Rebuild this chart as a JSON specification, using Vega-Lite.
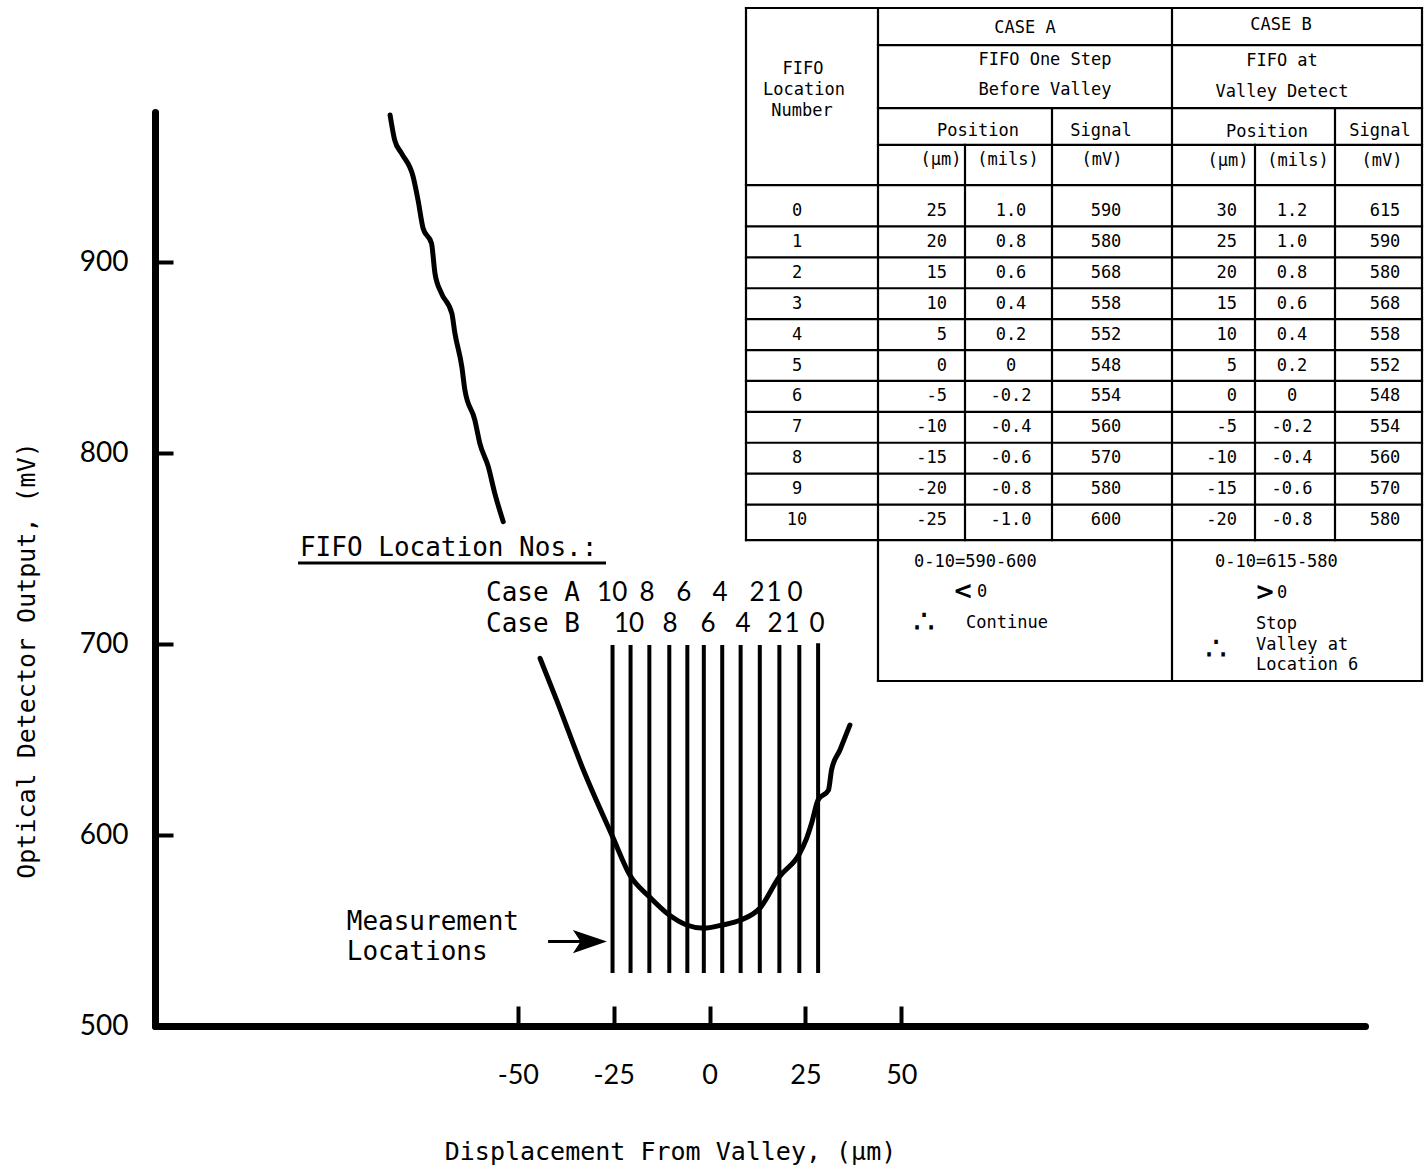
{
  "$schema": "https://vega.github.io/schema/vega-lite/v6.json",
  "width": 1210,
  "height": 914,
  "autosize": {"type": "none"},
  "padding": {"left": 155, "top": 112, "right": 63, "bottom": 143},
  "background": "white",
  "config": {"view": {"stroke": null}, "text": {"color": "black"}},
  "datasets": {
    "leftcurve": [
      {"x": -83.3, "y": 977.2}, {"x": -82.1, "y": 964.1}, {"x": -80.3, "y": 957.1}, {"x": -77.3, "y": 944.9},
      {"x": -76.0, "y": 932.5}, {"x": -74.7, "y": 917.9}, {"x": -72.5, "y": 910.0}, {"x": -71.6, "y": 894.3},
      {"x": -69.9, "y": 883.8}, {"x": -67.2, "y": 873.3}, {"x": -66.4, "y": 862.9}, {"x": -64.6, "y": 845.4},
      {"x": -63.8, "y": 833.2}, {"x": -61.2, "y": 817.4}, {"x": -59.9, "y": 805.2}, {"x": -57.7, "y": 793.0},
      {"x": -56.0, "y": 779.0}, {"x": -53.8, "y": 764.2}
    ],
    "valley": [
      {"x": -44.2, "y": 692.6}, {"x": -39.9, "y": 670.8}, {"x": -32.9, "y": 634.1}, {"x": -25.3, "y": 599.2},
      {"x": -20.8, "y": 579.1}, {"x": -15.7, "y": 567.7}, {"x": -10.5, "y": 558.1}, {"x": -6.0, "y": 552.9},
      {"x": -1.5, "y": 551.2}, {"x": 3.3, "y": 552.9}, {"x": 8.1, "y": 555.5}, {"x": 13.1, "y": 561.7},
      {"x": 18.2, "y": 578.2}, {"x": 23.4, "y": 590.1}, {"x": 25.3, "y": 598.3}, {"x": 26.6, "y": 606.2},
      {"x": 28.3, "y": 618.4}, {"x": 31.0, "y": 623.6}, {"x": 31.8, "y": 634.1}, {"x": 34.0, "y": 644.6},
      {"x": 36.6, "y": 657.7}
    ],
    "meas": [
      {"x": -25.3, "y": 527.8, "y2": 699.6}, {"x": -20.6, "y": 527.8, "y2": 699.6},
      {"x": -15.7, "y": 527.8, "y2": 699.6}, {"x": -10.5, "y": 527.8, "y2": 699.6},
      {"x": -5.8, "y": 527.8, "y2": 699.6}, {"x": -1.5, "y": 527.8, "y2": 699.6},
      {"x": 3.3, "y": 527.8, "y2": 699.6}, {"x": 8.1, "y": 527.8, "y2": 699.6},
      {"x": 13.1, "y": 527.8, "y2": 699.6}, {"x": 18.2, "y": 527.8, "y2": 699.6},
      {"x": 23.4, "y": 527.8, "y2": 699.6}, {"x": 28.3, "y": 527.8, "y2": 700.5}
    ],
    "fifo": [
      {"case": "A", "label": "10", "x": -25.4, "y": 726.8}, {"case": "A", "label": "8", "x": -16.3, "y": 726.8},
      {"case": "A", "label": "6", "x": -6.7, "y": 726.8}, {"case": "A", "label": "4", "x": 2.7, "y": 726.8},
      {"case": "A", "label": "2", "x": 12.4, "y": 726.8}, {"case": "A", "label": "1", "x": 16.8, "y": 726.8},
      {"case": "A", "label": "0", "x": 22.3, "y": 726.8},
      {"case": "B", "label": "10", "x": -21.0, "y": 710.6}, {"case": "B", "label": "8", "x": -10.3, "y": 710.6},
      {"case": "B", "label": "6", "x": -0.4, "y": 710.6}, {"case": "B", "label": "4", "x": 8.7, "y": 710.6},
      {"case": "B", "label": "2", "x": 17.1, "y": 710.6}, {"case": "B", "label": "1", "x": 21.5, "y": 710.6},
      {"case": "B", "label": "0", "x": 28.0, "y": 710.6}
    ],
    "notes": [
      {"text": "FIFO Location Nos.:", "x": -106.8, "y": 750.4},
      {"text": "Case A", "x": -58.3, "y": 726.8},
      {"text": "Case B", "x": -58.3, "y": 710.6},
      {"text": "Measurement", "x": -94.6, "y": 554.5},
      {"text": "Locations", "x": -94.6, "y": 538.8}
    ],
    "strokes": [
      {"x": -107.3, "x2": -27.0, "y": 742.5},
      {"x": -42.1, "x2": -33.0, "y": 544.2}
    ],
    "arrowhead": [{"x": -31.2, "y": 544.2}],
    "tlines": [
      {"tx1": 0, "tx2": 676, "ty1": -6.57, "ty2": -6.57},
      {"tx1": 132, "tx2": 676, "ty1": -5.37, "ty2": -5.37},
      {"tx1": 132, "tx2": 676, "ty1": -3.33, "ty2": -3.33},
      {"tx1": 132, "tx2": 676, "ty1": -2.14, "ty2": -2.14},
      {"tx1": 0, "tx2": 676, "ty1": -0.84, "ty2": -0.84},
      {"tx1": 0, "tx2": 676, "ty1": 0.5, "ty2": 0.5},
      {"tx1": 0, "tx2": 676, "ty1": 1.5, "ty2": 1.5},
      {"tx1": 0, "tx2": 676, "ty1": 2.5, "ty2": 2.5},
      {"tx1": 0, "tx2": 676, "ty1": 3.5, "ty2": 3.5},
      {"tx1": 0, "tx2": 676, "ty1": 4.5, "ty2": 4.5},
      {"tx1": 0, "tx2": 676, "ty1": 5.5, "ty2": 5.5},
      {"tx1": 0, "tx2": 676, "ty1": 6.5, "ty2": 6.5},
      {"tx1": 0, "tx2": 676, "ty1": 7.5, "ty2": 7.5},
      {"tx1": 0, "tx2": 676, "ty1": 8.5, "ty2": 8.5},
      {"tx1": 0, "tx2": 676, "ty1": 9.5, "ty2": 9.5},
      {"tx1": 0, "tx2": 676, "ty1": 10.65, "ty2": 10.65},
      {"tx1": 132, "tx2": 676, "ty1": 15.21, "ty2": 15.21},
      {"tx1": 0, "tx2": 0, "ty1": -6.57, "ty2": 10.65},
      {"tx1": 132, "tx2": 132, "ty1": -6.57, "ty2": 15.21},
      {"tx1": 219, "tx2": 219, "ty1": -2.14, "ty2": 10.65},
      {"tx1": 306, "tx2": 306, "ty1": -3.33, "ty2": 10.65},
      {"tx1": 426, "tx2": 426, "ty1": -6.57, "ty2": 15.21},
      {"tx1": 509, "tx2": 509, "ty1": -2.14, "ty2": 10.65},
      {"tx1": 589, "tx2": 589, "ty1": -3.33, "ty2": 10.65},
      {"tx1": 676, "tx2": 676, "ty1": -6.57, "ty2": 15.21}
    ],
    "thead": [
      {"text": "CASE A", "tx": 279, "ty": -5.92},
      {"text": "CASE B", "tx": 535, "ty": -6.02},
      {"text": "FIFO One Step", "tx": 299, "ty": -4.89},
      {"text": "Before Valley", "tx": 299, "ty": -3.92},
      {"text": "FIFO at", "tx": 536, "ty": -4.85},
      {"text": "Valley Detect", "tx": 536, "ty": -3.85},
      {"text": "FIFO", "tx": 57, "ty": -4.6},
      {"text": "Location", "tx": 58, "ty": -3.92},
      {"text": "Number", "tx": 56, "ty": -3.24},
      {"text": "Position", "tx": 232, "ty": -2.59},
      {"text": "Signal", "tx": 355, "ty": -2.59},
      {"text": "Position", "tx": 521, "ty": -2.56},
      {"text": "Signal", "tx": 634, "ty": -2.59},
      {"text": "(µm)", "tx": 195, "ty": -1.65},
      {"text": "(mils)", "tx": 262, "ty": -1.65},
      {"text": "(mV)", "tx": 356, "ty": -1.65},
      {"text": "(µm)", "tx": 482, "ty": -1.62},
      {"text": "(mils)", "tx": 552, "ty": -1.62},
      {"text": "(mV)", "tx": 636, "ty": -1.62},
      {"text": "0", "tx": 236, "ty": 12.33},
      {"text": "0", "tx": 536, "ty": 12.36}
    ],
    "tnotes": [
      {"text": "0-10=590-600", "tx": 168, "ty": 11.36},
      {"text": "Continue", "tx": 220, "ty": 13.33},
      {"text": "0-10=615-580", "tx": 469, "ty": 11.36},
      {"text": "Stop", "tx": 510, "ty": 13.37},
      {"text": "Valley at", "tx": 510, "ty": 14.05},
      {"text": "Location 6", "tx": 510, "ty": 14.69}
    ],
    "tsym": [
      {"text": "<", "tx": 217, "ty": 12.33},
      {"text": ">", "tx": 519, "ty": 12.36}
    ],
    "tdots": [
      {"text": "∴", "tx": 178, "ty": 13.33},
      {"text": "∴", "tx": 470, "ty": 14.21}
    ],
    "rows": [
      {"loc": 0, "a_um": "25", "a_mils": "1.0", "a_mv": "590", "b_um": "30", "b_mils": "1.2", "b_mv": "615"},
      {"loc": 1, "a_um": "20", "a_mils": "0.8", "a_mv": "580", "b_um": "25", "b_mils": "1.0", "b_mv": "590"},
      {"loc": 2, "a_um": "15", "a_mils": "0.6", "a_mv": "568", "b_um": "20", "b_mils": "0.8", "b_mv": "580"},
      {"loc": 3, "a_um": "10", "a_mils": "0.4", "a_mv": "558", "b_um": "15", "b_mils": "0.6", "b_mv": "568"},
      {"loc": 4, "a_um": "5", "a_mils": "0.2", "a_mv": "552", "b_um": "10", "b_mils": "0.4", "b_mv": "558"},
      {"loc": 5, "a_um": "0", "a_mils": "0", "a_mv": "548", "b_um": "5", "b_mils": "0.2", "b_mv": "552"},
      {"loc": 6, "a_um": "-5", "a_mils": "-0.2", "a_mv": "554", "b_um": "0", "b_mils": "0", "b_mv": "548"},
      {"loc": 7, "a_um": "-10", "a_mils": "-0.4", "a_mv": "560", "b_um": "-5", "b_mils": "-0.2", "b_mv": "554"},
      {"loc": 8, "a_um": "-15", "a_mils": "-0.6", "a_mv": "570", "b_um": "-10", "b_mils": "-0.4", "b_mv": "560"},
      {"loc": 9, "a_um": "-20", "a_mils": "-0.8", "a_mv": "580", "b_um": "-15", "b_mils": "-0.6", "b_mv": "570"},
      {"loc": 10, "a_um": "-25", "a_mils": "-1.0", "a_mv": "600", "b_um": "-20", "b_mils": "-0.8", "b_mv": "580"}
    ]
  },
  "layer": [
    {
      "layer": [
        {
          "data": {"name": "leftcurve"},
          "mark": {"type": "line", "color": "black", "strokeWidth": 5, "interpolate": "monotone", "strokeCap": "round"},
          "encoding": {
            "x": {
              "field": "x", "type": "quantitative",
              "scale": {"domain": [-144.6, 170.9], "nice": false, "zero": false},
              "axis": {
                "values": [-50, -25, 0, 25, 50],
                "labelExpr": "'' + datum.value",
                "grid": false,
                "domainColor": "black", "domainWidth": 7, "domainCap": "round",
                "tickColor": "black", "tickWidth": 4, "tickSize": -20,
                "labelFont": "Lato", "labelFontSize": 27, "labelColor": "black", "labelPadding": 56,
                "labelFlush": false, "labelOverlap": false,
                "title": "Displacement From Valley, (µm)",
                "titleFont": "DejaVu Sans Mono", "titleFontSize": 25, "titleFontWeight": "normal", "titleColor": "black",
                "titleX": 515, "titleY": 125, "titleBaseline": "middle"
              }
            },
            "y": {
              "field": "y", "type": "quantitative",
              "scale": {"domain": [500, 978.8], "nice": false, "zero": false},
              "axis": {
                "values": [500, 600, 700, 800, 900],
                "grid": false,
                "domainColor": "black", "domainWidth": 7, "domainCap": "round",
                "tickColor": "black", "tickWidth": 4, "tickSize": -18,
                "labelFont": "Lato", "labelFontSize": 28, "labelColor": "black", "labelPadding": 45,
                "labelFlush": false, "labelOverlap": false,
                "title": "Optical Detector Output, (mV)",
                "titleFont": "DejaVu Sans Mono", "titleFontSize": 25, "titleFontWeight": "normal", "titleColor": "black",
                "titleX": -129, "titleY": 548, "titleBaseline": "middle"
              }
            }
          }
        },
        {
          "data": {"name": "valley"},
          "mark": {"type": "line", "color": "black", "strokeWidth": 5, "interpolate": "monotone", "strokeCap": "round"},
          "encoding": {
            "x": {"field": "x", "type": "quantitative"},
            "y": {"field": "y", "type": "quantitative"}
          }
        },
        {
          "data": {"name": "meas"},
          "mark": {"type": "rule", "color": "black", "strokeWidth": 4},
          "encoding": {
            "x": {"field": "x", "type": "quantitative"},
            "y": {"field": "y", "type": "quantitative"},
            "y2": {"field": "y2"}
          }
        },
        {
          "data": {"name": "strokes"},
          "mark": {"type": "rule", "color": "black", "strokeWidth": 3},
          "encoding": {
            "x": {"field": "x", "type": "quantitative"},
            "x2": {"field": "x2"},
            "y": {"field": "y", "type": "quantitative"}
          }
        },
        {
          "data": {"name": "arrowhead"},
          "mark": {"type": "point", "shape": "M-1,-0.68L1,0L-1,0.68L-0.55,0Z", "size": 1156, "filled": true, "color": "black", "opacity": 1},
          "encoding": {
            "x": {"field": "x", "type": "quantitative"},
            "y": {"field": "y", "type": "quantitative"}
          }
        },
        {
          "data": {"name": "fifo"},
          "mark": {"type": "text", "font": "Lato", "fontSize": 26, "align": "center", "baseline": "middle", "color": "black"},
          "encoding": {
            "x": {"field": "x", "type": "quantitative"},
            "y": {"field": "y", "type": "quantitative"},
            "text": {"field": "label"}
          }
        },
        {
          "data": {"name": "notes"},
          "mark": {"type": "text", "font": "DejaVu Sans Mono", "fontSize": 26, "align": "left", "baseline": "middle", "color": "black"},
          "encoding": {
            "x": {"field": "x", "type": "quantitative"},
            "y": {"field": "y", "type": "quantitative"},
            "text": {"field": "text"}
          }
        }
      ]
    },
    {
      "layer": [
        {
          "data": {"name": "tlines"},
          "mark": {"type": "rule", "color": "black", "strokeWidth": 2.2, "strokeCap": "square"},
          "encoding": {
            "x": {"field": "tx1", "type": "quantitative", "scale": {"domain": [-591, 619], "nice": false, "zero": false}, "axis": null},
            "x2": {"field": "tx2"},
            "y": {"field": "ty1", "type": "quantitative", "scale": {"domain": [-3.204, 26.375], "nice": false, "zero": false, "reverse": true}, "axis": null},
            "y2": {"field": "ty2"}
          }
        },
        {
          "data": {"name": "thead"},
          "mark": {"type": "text", "font": "DejaVu Sans Mono", "fontSize": 17, "align": "center", "baseline": "middle", "color": "black"},
          "encoding": {
            "x": {"field": "tx", "type": "quantitative", "axis": null},
            "y": {"field": "ty", "type": "quantitative", "axis": null},
            "text": {"field": "text"}
          }
        },
        {
          "data": {"name": "tnotes"},
          "mark": {"type": "text", "font": "DejaVu Sans Mono", "fontSize": 17, "align": "left", "baseline": "middle", "color": "black"},
          "encoding": {
            "x": {"field": "tx", "type": "quantitative", "axis": null},
            "y": {"field": "ty", "type": "quantitative", "axis": null},
            "text": {"field": "text"}
          }
        },
        {
          "data": {"name": "tsym"},
          "mark": {"type": "text", "font": "DejaVu Sans", "fontSize": 24, "fontWeight": "bold", "align": "center", "baseline": "middle", "color": "black"},
          "encoding": {
            "x": {"field": "tx", "type": "quantitative", "axis": null},
            "y": {"field": "ty", "type": "quantitative", "axis": null},
            "text": {"field": "text"}
          }
        },
        {
          "data": {"name": "tdots"},
          "mark": {"type": "text", "font": "DejaVu Sans", "fontSize": 34, "align": "center", "baseline": "middle", "color": "black"},
          "encoding": {
            "x": {"field": "tx", "type": "quantitative", "axis": null},
            "y": {"field": "ty", "type": "quantitative", "axis": null},
            "text": {"field": "text"}
          }
        },
        {
          "data": {"name": "rows"},
          "mark": {"type": "text", "font": "DejaVu Sans Mono", "fontSize": 17, "align": "center", "baseline": "middle", "color": "black"},
          "encoding": {
            "x": {"datum": 51, "type": "quantitative", "axis": null},
            "y": {"field": "loc", "type": "quantitative", "axis": null},
            "text": {"field": "loc", "type": "nominal"}
          }
        },
        {
          "data": {"name": "rows"},
          "mark": {"type": "text", "font": "DejaVu Sans Mono", "fontSize": 17, "align": "right", "baseline": "middle", "color": "black"},
          "encoding": {
            "x": {"datum": 201, "type": "quantitative", "axis": null},
            "y": {"field": "loc", "type": "quantitative", "axis": null},
            "text": {"field": "a_um"}
          }
        },
        {
          "data": {"name": "rows"},
          "mark": {"type": "text", "font": "DejaVu Sans Mono", "fontSize": 17, "align": "center", "baseline": "middle", "color": "black"},
          "encoding": {
            "x": {"datum": 265, "type": "quantitative", "axis": null},
            "y": {"field": "loc", "type": "quantitative", "axis": null},
            "text": {"field": "a_mils"}
          }
        },
        {
          "data": {"name": "rows"},
          "mark": {"type": "text", "font": "DejaVu Sans Mono", "fontSize": 17, "align": "center", "baseline": "middle", "color": "black"},
          "encoding": {
            "x": {"datum": 360, "type": "quantitative", "axis": null},
            "y": {"field": "loc", "type": "quantitative", "axis": null},
            "text": {"field": "a_mv"}
          }
        },
        {
          "data": {"name": "rows"},
          "mark": {"type": "text", "font": "DejaVu Sans Mono", "fontSize": 17, "align": "right", "baseline": "middle", "color": "black"},
          "encoding": {
            "x": {"datum": 491, "type": "quantitative", "axis": null},
            "y": {"field": "loc", "type": "quantitative", "axis": null},
            "text": {"field": "b_um"}
          }
        },
        {
          "data": {"name": "rows"},
          "mark": {"type": "text", "font": "DejaVu Sans Mono", "fontSize": 17, "align": "center", "baseline": "middle", "color": "black"},
          "encoding": {
            "x": {"datum": 546, "type": "quantitative", "axis": null},
            "y": {"field": "loc", "type": "quantitative", "axis": null},
            "text": {"field": "b_mils"}
          }
        },
        {
          "data": {"name": "rows"},
          "mark": {"type": "text", "font": "DejaVu Sans Mono", "fontSize": 17, "align": "center", "baseline": "middle", "color": "black"},
          "encoding": {
            "x": {"datum": 639, "type": "quantitative", "axis": null},
            "y": {"field": "loc", "type": "quantitative", "axis": null},
            "text": {"field": "b_mv"}
          }
        }
      ]
    }
  ],
  "resolve": {"scale": {"x": "independent", "y": "independent"}}
}
